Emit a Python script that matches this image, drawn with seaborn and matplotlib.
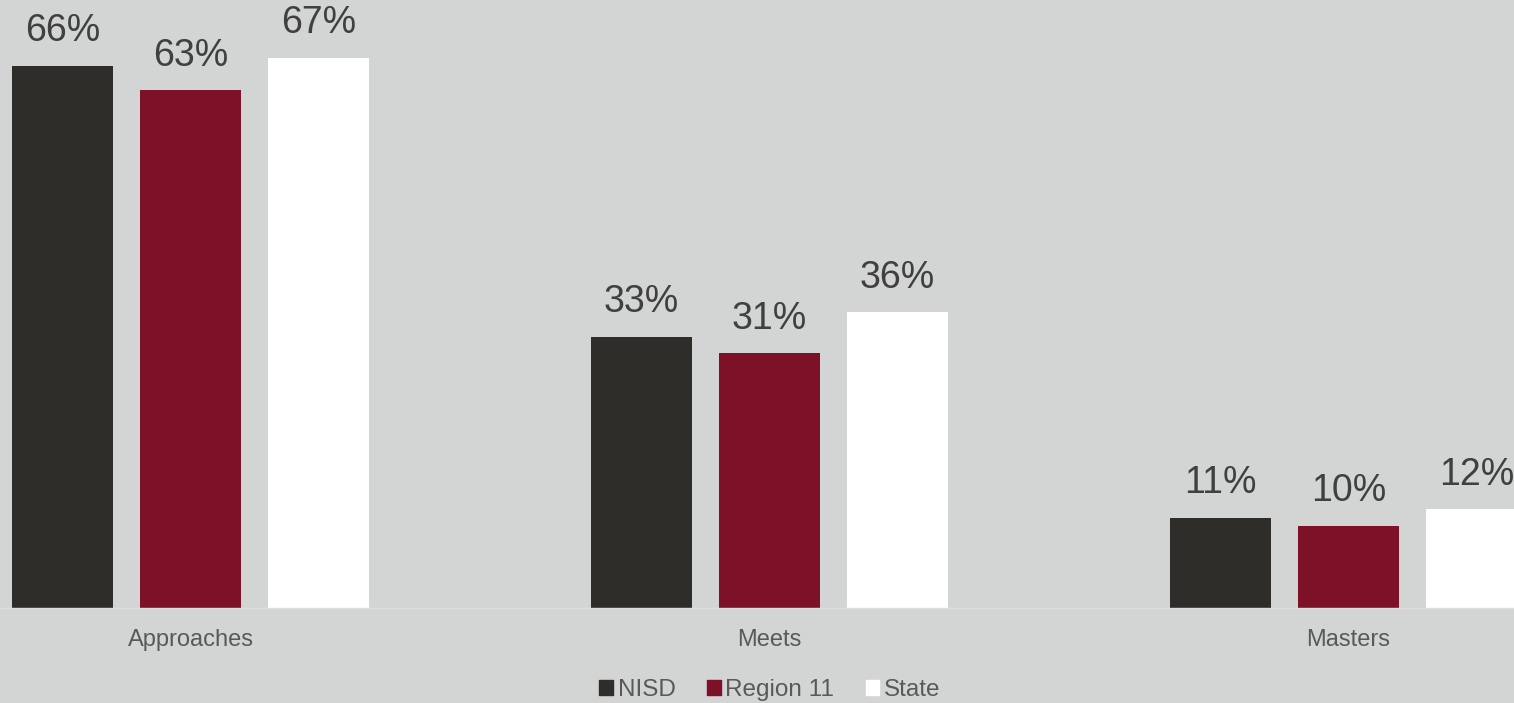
import numpy as np
import pandas as pd
import matplotlib
matplotlib.use("Agg")
import matplotlib.pyplot as plt
import seaborn as sns

levels = ["Approaches", "Meets", "Masters"]
groups = ["NISD", "Region 11", "State"]
nisd = [66, 33, 11]
region11 = [63, 31, 10]
state = [67, 36, 12]

colors = {"NISD": "#2f2d29", "Region 11": "#7d1128", "State": "#ffffff"}
bg = "#d3d5d4"

df = pd.DataFrame({
    "level": levels * 3,
    "group": ["NISD"] * 3 + ["Region 11"] * 3 + ["State"] * 3,
    "pct": nisd + region11 + state,
})

sns.set_theme(style="white")
plt.rcParams["font.family"] = ["Liberation Sans", "DejaVu Sans"]

fig = plt.figure(figsize=(15.14, 7.03), dpi=100)
fig.patch.set_facecolor(bg)
ax = fig.add_axes([0, 95 / 703, 1, 608 / 703])
ax.set_facecolor(bg)

sns.barplot(data=df, x="level", y="pct", hue="group", order=levels,
            hue_order=groups, palette=colors, width=0.663, gap=0.211,
            saturation=1, linewidth=0, ax=ax, legend=False)

for cont in ax.containers:
    ax.bar_label(cont, labels=[f"{v:.0f}%" for v in cont.datavalues],
                 padding=12, fontsize=27, color="#404040")

ax.set_xlim(-0.329, 2.286)
ax.set_ylim(0, 74)
ax.set_xlabel("")
ax.set_ylabel("")
ax.set_yticks([])
ax.tick_params(axis="x", length=0, pad=15, labelsize=17, labelcolor="#595959")
for s in ["top", "left", "right"]:
    ax.spines[s].set_visible(False)
ax.spines["bottom"].set_color("#dedede")
ax.spines["bottom"].set_linewidth(1)

handles = [plt.Rectangle((0, 0), 1, 1, color=colors[g]) for g in groups]
fig.legend(handles, groups, loc="center", bbox_to_anchor=(770 / 1514, 13 / 703),
           ncol=3, frameon=False, fontsize=17.5, labelcolor="#595959",
           handlelength=0.55, handleheight=0.55, handletextpad=0.2,
           columnspacing=1.3)

fig.savefig("out.png", dpi=100, facecolor=bg)
